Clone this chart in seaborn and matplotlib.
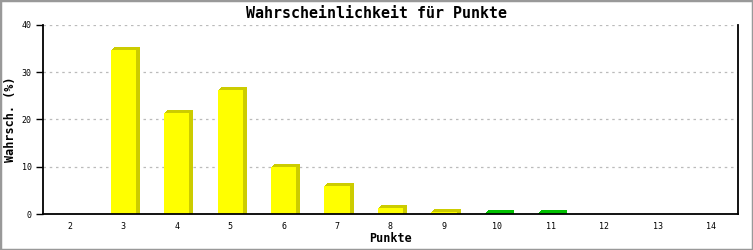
import matplotlib
matplotlib.use("Agg")
import matplotlib.pyplot as plt
import matplotlib.transforms as mtransforms
from matplotlib.patches import Rectangle
import seaborn as sns
import pandas as pd

# data
points = ["2", "3", "4", "5", "6", "7", "8", "9", "10", "11", "12", "13", "14"]
values = [0, 34.7, 21.4, 26.3, 10.0, 6.0, 1.3, 0.5, 0.2, 0.2, 0, 0, 0]
front_colors = ["#ffff00"] * 8 + ["#00cc00"] * 2 + ["#ffff00"] * 3
shadow_colors = ["#cccc00"] * 8 + ["#00c000"] * 2 + ["#cccc00"] * 3
title = "Wahrscheinlichkeit für Punkte"
xlabel = "Punkte"
ylabel = "Wahrsch. (%)"
yticks = [0, 10, 20, 30, 40]

df = pd.DataFrame({"Punkte": points, "Wert": values})

sns.set_style("white")
plt.rcParams["font.family"] = ["DejaVu Sans Mono", "DejaVu Sans"]
plt.rcParams["text.color"] = "black"
plt.rcParams["axes.labelcolor"] = "black"
plt.rcParams["xtick.color"] = "black"
plt.rcParams["ytick.color"] = "black"

fig = plt.figure(figsize=(7.53, 2.5), dpi=100)
fig.patch.set_facecolor("white")
fig.patches.append(Rectangle((0, 0), 1, 1, transform=fig.transFigure,
                             fill=False, edgecolor="#999999", linewidth=2.5))
ax = fig.add_axes([43 / 753, 36 / 250, 695 / 753, 189 / 250])

# shadow bars (offset right / up in pixels, stacked to form a 3D side)
for dx, dy in ((1, 1), (2, 2), (3, 3), (4, 3), (4, 0), (4, 1), (4, 2)):
    start = len(ax.patches)
    sns.barplot(data=df, x="Punkte", y="Wert", hue="Punkte",
                palette=dict(zip(points, shadow_colors)), legend=False,
                saturation=1, width=0.47, linewidth=0, ax=ax, zorder=2)
    offset = mtransforms.offset_copy(ax.transData, fig=fig, x=dx, y=dy, units="dots")
    for p in ax.patches[start:]:
        p.set_transform(offset)

# front bars
sns.barplot(data=df, x="Punkte", y="Wert", hue="Punkte",
            palette=dict(zip(points, front_colors)), legend=False,
            saturation=1, width=0.47, linewidth=0, ax=ax, zorder=3)

ax.set_xlim(-0.5, 12.5)
ax.set_ylim(0, 40)
ax.set_yticks(yticks)
ax.set_yticklabels([str(v) for v in yticks], fontsize=6)
ax.set_xticks(range(len(points)))
ax.set_xticklabels(points, fontsize=6)
ax.tick_params(axis="y", length=5, width=1, color="black", pad=3, left=True)
ax.tick_params(axis="x", length=0, pad=6)

ax.yaxis.grid(True, linestyle=(0, (2, 3)), color="#bbbbbb", linewidth=0.9, zorder=0)
ax.set_axisbelow(True)

for side in ["left", "right", "bottom"]:
    ax.spines[side].set_visible(True)
    ax.spines[side].set_color("black")
    ax.spines[side].set_linewidth(1.3)
    ax.spines[side].set_zorder(5)
ax.spines["top"].set_visible(False)

ax.set_xlabel(xlabel, fontsize=8.5, fontweight="bold")
ax.set_ylabel(ylabel, fontsize=8.5, fontweight="bold")
ax.xaxis.set_label_coords(0.5, (214 - 239) / 189, transform=ax.transAxes)
ax.yaxis.set_label_coords((10 - 43) / 695, 0.5, transform=ax.transAxes)
ax.xaxis.label.set_va("center")
ax.yaxis.label.set_va("center")
fig.text(0.5, 1 - 13 / 250, title, ha="center", va="center",
         fontsize=10.8, fontweight="bold", color="black")

fig.savefig("out.png", dpi=100, facecolor="white")
